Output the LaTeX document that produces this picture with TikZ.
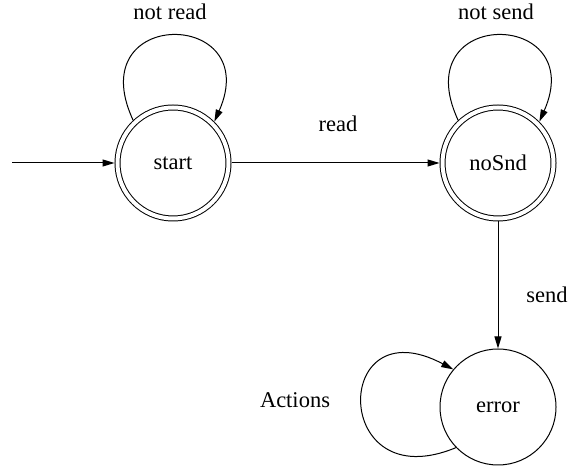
\documentclass[tikz,border=0pt]{standalone}
\usepackage{fontspec}
\setmainfont{Liberation Serif}
\usetikzlibrary{arrows.meta}

\tikzset{
  state/.style={circle,draw,line width=0.5pt,minimum size=58pt,inner sep=0pt},
  accept/.style={state,minimum size=55.5pt,double,double distance=2pt,outer sep=1.5pt},
  trans/.style={line width=0.5pt,-{Triangle[length=6pt,width=3.5pt]}}
}

\begin{document}
\begin{tikzpicture}[x=0.5pt,y=0.5pt,font=\fontsize{11.25}{13}\selectfont]
  \useasboundingbox (0,0) rectangle (572,470);

  % states
  \node (start) at (173,307) [accept] {start};
  \node (nosnd) at (498,307) [accept] {noSnd};
  \node (error) at (498,63) [state] {error};

  \coordinate (init) at (12,307);

  % transitions
  \draw[trans] (init) -- (start);
  \draw[trans] (start) -- (nosnd);
  \draw[trans] (nosnd) -- (error);

  \draw[trans] (start.133) .. controls +(-53,114) and +(50,113) .. (start.45);
  \draw[trans] (nosnd.133) .. controls +(-53,114) and +(50,113) .. (nosnd.45);
  \draw[trans] (error.224) .. controls +(-125,-52) and +(-122,65) .. (error.140);

  % labels
  \node (lnotread) at (170,458) {not read};
  \node (lnotsend) at (496,458) {not send};
  \node (lread) at (338,346) {read};
  \node (lsend) at (547,175) {send};
  \node (lactions) at (295,70) {Actions};
\end{tikzpicture}
\end{document}
